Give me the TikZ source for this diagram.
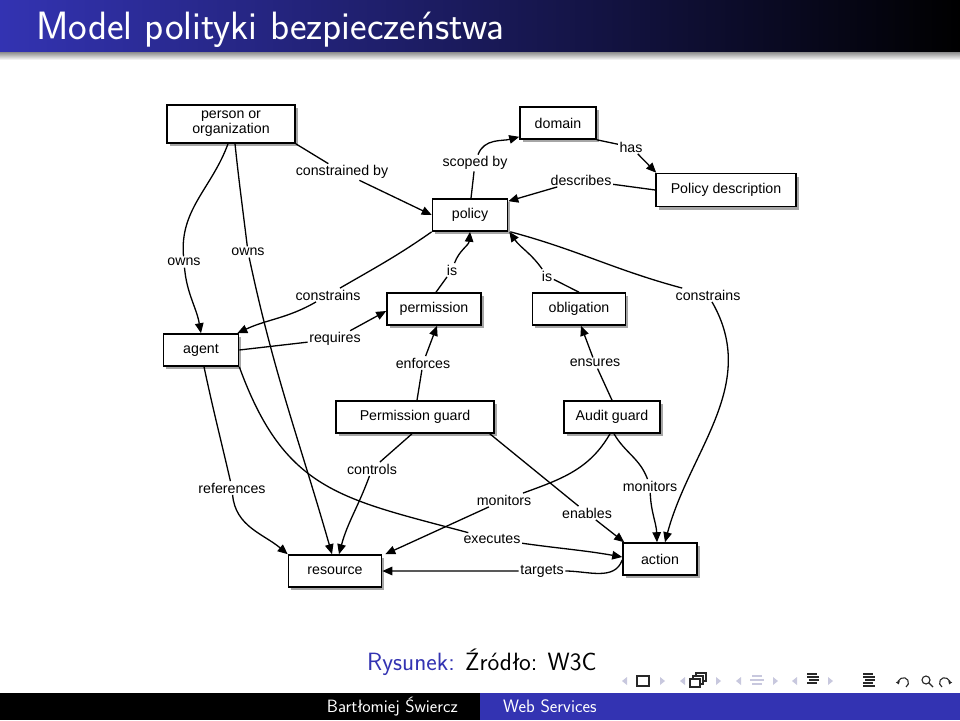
\documentclass[tikz,border=0pt]{standalone}
\usepackage{fontspec}
\newfontfamily\diagfont{Liberation Sans}
\usetikzlibrary{arrows.meta,shadows,calc}
\definecolor{bblue}{RGB}{51,51,178}
\definecolor{navlight}{RGB}{200,200,222}
\definecolor{navdark}{RGB}{40,40,40}
\begin{document}
\begin{tikzpicture}[x=1pt,y=1pt,
  box/.style={draw=black,line width=1.6pt,fill=white,font=\diagfont\fontsize{14.2}{16}\selectfont,
    minimum height=32pt,inner sep=0pt,align=center,
    drop shadow={shadow xshift=2.5pt,shadow yshift=-3pt,fill=black,opacity=0.35}},
  lbl/.style={fill=white,inner sep=1.5pt,font=\diagfont\fontsize{14.2}{16}\selectfont},
  edge/.style={draw=black,line width=1.3pt},
  arr/.style={edge,-{Triangle[length=10pt,width=8.5pt]}},
  navtri/.style={fill=navlight},
  navicon/.style={draw=navdark,line width=1.1pt}
]
\useasboundingbox (0,0) rectangle (960,-720);
\fill[white] (0,0) rectangle (960,-720);

% title bar
\shade[left color=bblue,right color=black] (0,0) rectangle (960,-52);
\shade[top color=black!45,bottom color=white] (0,-52) rectangle (960,-60);
\node[anchor=base west,text=white,font=\fontsize{39.5}{42}\sffamily\selectfont,inner sep=0pt] (title) at (36,-39) {Model polityki bezpieczeństwa};

% boxes
\node[box,minimum width=128pt,minimum height=38pt] (person) at (231,-124) {person or\\[-1pt]organization};
\node[box,minimum width=76pt] (domain) at (558,-123) {domain};
\node[box,minimum width=140pt,minimum height=33pt] (PD) at (726,-190) {Policy description};
\node[box,minimum width=75pt] (policy) at (470,-215) {policy};
\node[box,minimum width=94pt] (permission) at (434,-309) {permission};
\node[box,minimum width=93pt] (obligation) at (579,-309) {obligation};
\node[box,minimum width=75pt] (agent) at (201,-350) {agent};
\node[box,minimum width=158pt] (PG) at (415,-417) {Permission guard};
\node[box,minimum width=96pt] (AG) at (612,-417) {Audit guard};
\node[box,minimum width=93pt] (resource) at (335,-571) {resource};
\node[box,minimum width=74pt] (action) at (660,-559) {action};

% labels
\node[lbl] (Lowns1) at (184,-262) {owns};
\node[lbl] (Lowns2) at (248,-252) {owns};
\node[lbl] (Lcby) at (342,-172) {constrained by};
\node[lbl] (Lscoped) at (475,-163) {scoped by};
\node[lbl] (Lhas) at (631,-147) {has};
\node[lbl] (Ldesc) at (581,-180) {describes};
\node[lbl] (Lcons1) at (328,-295) {constrains};
\node[lbl] (Lis1) at (452,-270) {is};
\node[lbl] (Lis2) at (547,-276) {is};
\node[lbl] (Lcons2) at (708,-295) {constrains};
\node[lbl] (Lreq) at (335,-339) {requires};
\node[lbl] (Lenf) at (423,-363) {enforces};
\node[lbl] (Lens) at (595,-363) {ensures};
\node[lbl] (Lref) at (232,-488) {references};
\node[lbl] (Lexec) at (492,-539) {executes};
\node[lbl] (Lctrl) at (372,-469) {controls};
\node[lbl] (Lenab) at (587,-513) {enables};
\node[lbl] (Lmon1) at (504,-500) {monitors};
\node[lbl] (Lmon2) at (650,-486) {monitors};
\node[lbl] (Ltarg) at (542,-571) {targets};

% edges
\draw[arr] ([xshift=-3pt]person.south) to[out=-110,in=95] (Lowns1) to[out=-85,in=100] (agent.north);
\draw[arr] ([xshift=4pt]person.south) to[out=-84,in=97] (Lowns2) to[out=-78,in=106] ([xshift=-3pt]resource.north);
\draw[arr] (person.south east) -- (Lcby) -- (policy.west);
\draw[arr] ([xshift=1pt]policy.north) -- (Lscoped) to[out=70,in=195] ([yshift=3pt]domain.south west);
\draw[arr] (domain.south east) -- (Lhas) -- ([xshift=1pt]PD.north west);
\draw[arr] (PD.west) -- (Ldesc) -- ([yshift=-3pt]policy.north east);
\draw[arr] (policy.south west) to[out=-145,in=30] (Lcons1) to[out=-150,in=25] ([xshift=-2pt]agent.north east);
\draw[arr] ([xshift=2pt]permission.north) -- (Lis1) to[out=70,in=-95] (policy.south);
\draw[arr] (obligation.north) -- (Lis2) to[out=125,in=-55] ([xshift=1pt]policy.south east);
\draw[arr] ([xshift=2pt]policy.south east) to[out=-15,in=165] (Lcons2) to[out=-60,in=75] ([xshift=5pt]action.north);
\draw[arr] (agent.east) -- (Lreq) -- ([yshift=-2pt]permission.west);
\draw[arr] ([xshift=2pt]PG.north) -- (Lenf) -- ([xshift=3pt]permission.south);
\draw[arr] (AG.north) -- (Lens) -- ([xshift=2pt]obligation.south);
\draw[arr] ([xshift=3pt]agent.south) to[out=-78,in=103] (Lref) to[out=-85,in=140] (resource.north west);
\draw[arr] (agent.south east) to[out=-70,in=165,looseness=1.2] (Lexec) to[out=-8,in=170] ([yshift=2pt]action.west);
\draw[arr] ([xshift=-3pt]PG.south) -- (Lctrl) to[out=-110,in=75] ([xshift=4pt]resource.north);
\draw[arr] ([xshift=-5pt]PG.south east) -- (Lenab) -- ([xshift=2pt]action.north west);
\draw[arr] ([xshift=-2pt]AG.south) to[out=-120,in=20] (Lmon1) -- ([xshift=3pt]resource.north east);
\draw[arr] ([xshift=2pt]AG.south) to[out=-60,in=110] (Lmon2) to[out=-88,in=92] ([xshift=-3pt]action.north);
\draw[arr] ([yshift=-1pt]action.west) to[out=-110,in=0] (Ltarg) -- (resource.east);

% caption
\node[anchor=base west,inner sep=0pt,font=\fontsize{25}{28}\sffamily\selectfont] (cap) at (367,-670) {\textcolor{bblue}{Rysunek:} Źródło: W3C};

% navigation symbols
\fill[navtri] (627,-677) -- (622,-681) -- (627,-685) -- cycle;
\draw[navicon] (637,-676) rectangle (649,-686);
\fill[navtri] (660,-677) -- (665,-681) -- (660,-685) -- cycle;
\fill[navtri] (685,-677) -- (680,-681) -- (685,-685) -- cycle;
\draw[navicon,fill=white] (696,-673) rectangle (706,-681);
\draw[navicon,fill=white] (693,-676) rectangle (703,-684);
\draw[navicon,fill=white] (690,-679) rectangle (700,-687);
\fill[navtri] (716,-677) -- (721,-681) -- (716,-685) -- cycle;
\fill[navtri] (741,-677) -- (736,-681) -- (741,-685) -- cycle;
\draw[draw=navlight,line width=1.1pt] (752,-676) -- (762,-676) (750,-680) -- (764,-680) (752,-684) -- (762,-684);
\fill[navtri] (773,-677) -- (778,-681) -- (773,-685) -- cycle;
\fill[navtri] (797,-677) -- (792,-681) -- (797,-685) -- cycle;
\draw[navicon] (807,-674) -- (817,-674) (807,-677) -- (819,-677) (809,-680) -- (819,-680) (807,-683) -- (817,-683);
\fill[navtri] (828,-677) -- (833,-681) -- (828,-685) -- cycle;
\draw[navicon] (863,-674) -- (873,-674) (863,-677) -- (875,-677) (865,-680) -- (875,-680) (863,-683) -- (873,-683) (863,-686) -- (875,-686);
\draw[navicon,-{Triangle[length=3pt,width=4pt]}] (906,-687) arc[start angle=-60,end angle=200,radius=5pt];
\draw[navicon] (926,-680) circle[radius=4pt] (929,-683) -- (933,-687);
\draw[navicon,-{Triangle[length=3pt,width=4pt]}] (942,-687) arc[start angle=240,end angle=-20,radius=5pt];

% footer
\fill[black] (0,-693) rectangle (480,-720);
\fill[bblue] (480,-693) rectangle (960,-720);
\node[anchor=base east,text=white,font=\fontsize{17.8}{19}\sffamily\selectfont,inner sep=0pt] (author) at (458,-712) {Bartłomiej Świercz};
\node[anchor=base west,text=white,font=\fontsize{18}{19}\sffamily\selectfont,inner sep=0pt] (wstitle) at (503,-712) {Web Services};
\end{tikzpicture}
\end{document}
